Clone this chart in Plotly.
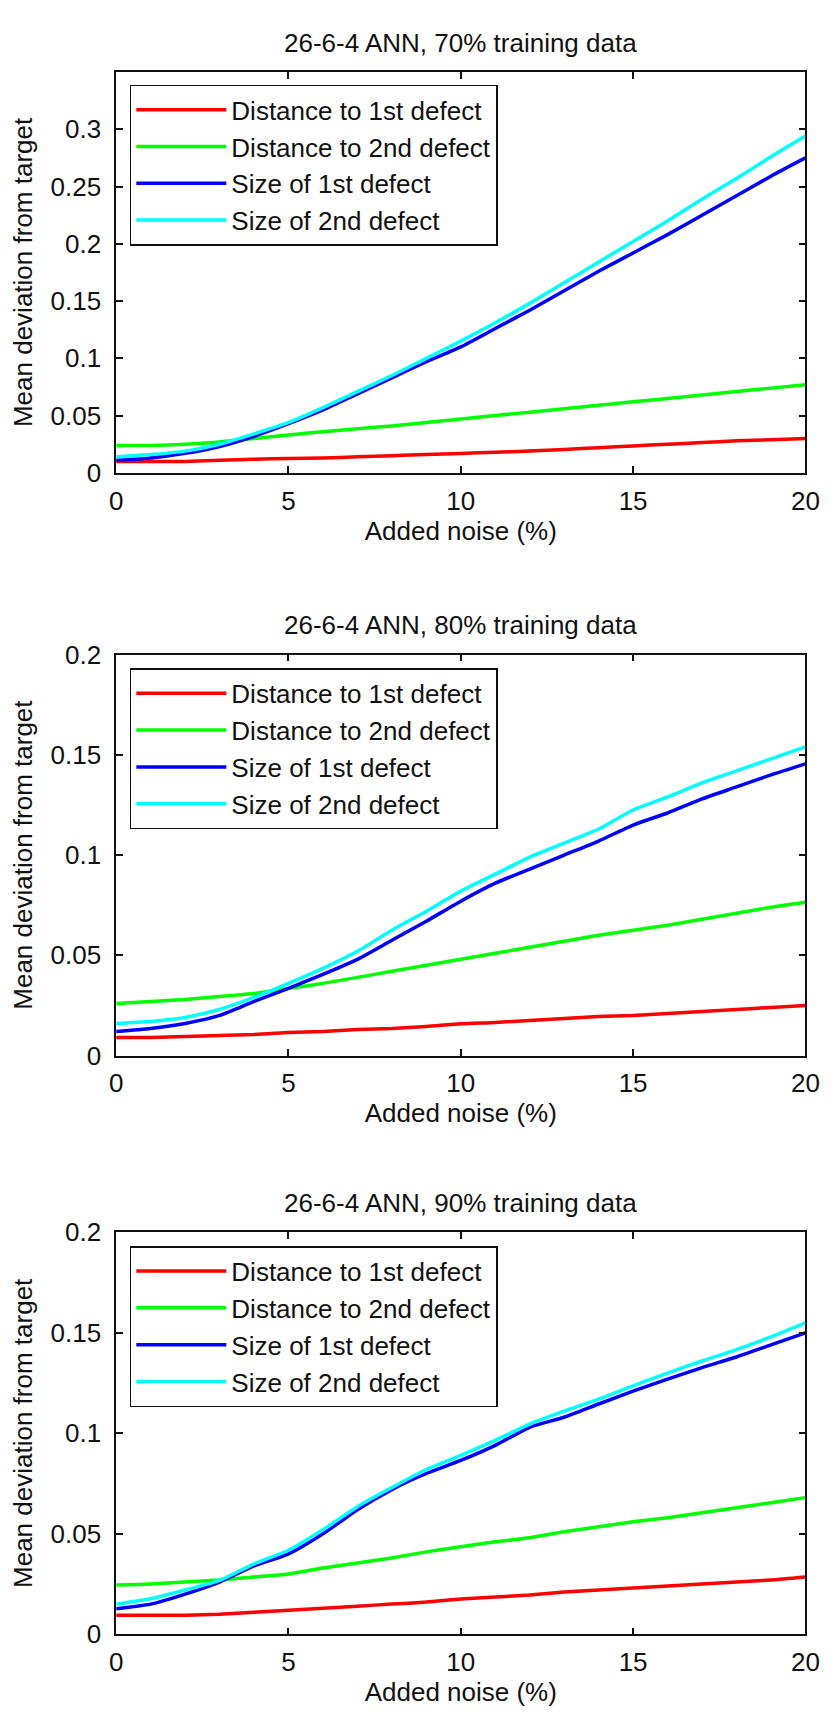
import plotly.graph_objects as go

# Added noise levels (%)
noise = list(range(0, 21))

# 26-6-4 ANN, 70% training data
dist1_70 = [0.010, 0.010, 0.010, 0.011, 0.012, 0.0125, 0.013, 0.014, 0.015, 0.016, 0.017,
            0.018, 0.019, 0.0205, 0.022, 0.0235, 0.025, 0.0265, 0.028, 0.029, 0.030]
dist2_70 = [0.024, 0.024, 0.025, 0.027, 0.030, 0.033, 0.036, 0.0385, 0.041, 0.044, 0.047,
            0.050, 0.053, 0.056, 0.059, 0.062, 0.065, 0.068, 0.071, 0.074, 0.077]
size1_70 = [0.011, 0.013, 0.017, 0.023, 0.032, 0.043, 0.055, 0.069, 0.083, 0.097, 0.110,
            0.126, 0.142, 0.159, 0.176, 0.192, 0.208, 0.225, 0.242, 0.259, 0.275]
size2_70 = [0.014, 0.016, 0.019, 0.025, 0.034, 0.044, 0.057, 0.071, 0.085, 0.100, 0.115,
            0.131, 0.148, 0.166, 0.184, 0.202, 0.220, 0.239, 0.257, 0.276, 0.294]

# 26-6-4 ANN, 80% training data
dist1_80 = [0.009, 0.009, 0.0095, 0.010, 0.0105, 0.0115, 0.012, 0.013, 0.0135, 0.0145, 0.0158,
            0.0165, 0.0175, 0.0185, 0.0195, 0.020, 0.021, 0.022, 0.023, 0.024, 0.025]
dist2_80 = [0.026, 0.027, 0.028, 0.0295, 0.031, 0.0335, 0.036, 0.039, 0.042, 0.045, 0.048,
            0.051, 0.054, 0.057, 0.060, 0.0625, 0.065, 0.068, 0.071, 0.074, 0.0765]
size1_80 = [0.012, 0.0135, 0.016, 0.020, 0.027, 0.0335, 0.0405, 0.048, 0.0575, 0.067, 0.077,
            0.086, 0.093, 0.100, 0.107, 0.115, 0.121, 0.128, 0.134, 0.140, 0.1455]
size2_80 = [0.016, 0.017, 0.019, 0.023, 0.029, 0.036, 0.0435, 0.052, 0.0625, 0.072, 0.082,
            0.0905, 0.099, 0.106, 0.113, 0.1225, 0.129, 0.136, 0.142, 0.148, 0.154]

# 26-6-4 ANN, 90% training data
dist1_90 = [0.0095, 0.0095, 0.0095, 0.010, 0.011, 0.012, 0.013, 0.014, 0.015, 0.016, 0.0175,
            0.0185, 0.0195, 0.021, 0.022, 0.023, 0.024, 0.025, 0.026, 0.027, 0.0285]
dist2_90 = [0.0245, 0.025, 0.026, 0.027, 0.0285, 0.030, 0.033, 0.0355, 0.038, 0.041, 0.0435,
            0.046, 0.048, 0.051, 0.0535, 0.056, 0.058, 0.0605, 0.063, 0.0655, 0.068]
size1_90 = [0.0127, 0.015, 0.020, 0.026, 0.034, 0.040, 0.050, 0.062, 0.072, 0.080, 0.0865,
            0.094, 0.103, 0.108, 0.1146, 0.121, 0.127, 0.1327, 0.138, 0.144, 0.150]
size2_90 = [0.015, 0.0177, 0.022, 0.0268, 0.035, 0.0418, 0.052, 0.0635, 0.073, 0.082, 0.089,
            0.0965, 0.1046, 0.111, 0.117, 0.1236, 0.130, 0.136, 0.1417, 0.148, 0.155]

series_names = ["Distance to 1st defect", "Distance to 2nd defect",
                "Size of 1st defect", "Size of 2nd defect"]
series_colors = ["#ff0000", "#00ff00", "#0000ff", "#00ffff"]

panels = [
    ("26-6-4 ANN, 70% training data", [dist1_70, dist2_70, size1_70, size2_70],
     [0, 0.35], [0, 0.05, 0.1, 0.15, 0.2, 0.25, 0.3]),
    ("26-6-4 ANN, 80% training data", [dist1_80, dist2_80, size1_80, size2_80],
     [0, 0.2], [0, 0.05, 0.1, 0.15, 0.2]),
    ("26-6-4 ANN, 90% training data", [dist1_90, dist2_90, size1_90, size2_90],
     [0, 0.2], [0, 0.05, 0.1, 0.15, 0.2]),
]
x_ticks = [0, 5, 10, 15, 20]

W, H = 835, 1720
FONT = "Liberation Sans, Arial, sans-serif"
FS = 26
INK = "#111111"

# pixel boxes of the three axes: (left, right, top, bottom)
boxes = [(112, 819, 58, 466), (112, 819, 651, 1059), (112, 819, 1239, 1648)]
title_y = [28, 621, 1209]
legend_top = [71, 665, 1253]

fig = go.Figure()
layout = dict(
    width=W, height=H, margin=dict(l=0, r=0, t=0, b=0),
    paper_bgcolor="white", plot_bgcolor="white",
    font=dict(family=FONT, size=FS, color=INK),
    annotations=[], showlegend=True,
)

for i, (title, ys, yrange, yticks) in enumerate(panels):
    n = i + 1
    xa = "x" if n == 1 else f"x{n}"
    ya = "y" if n == 1 else f"y{n}"
    lg = "legend" if n == 1 else f"legend{n}"
    for name, color, vals in zip(series_names, series_colors, ys):
        fig.add_trace(go.Scatter(
            x=noise, y=vals, name=name, mode="lines",
            line=dict(color=color, width=3.5, shape="spline", smoothing=0.6),
            xaxis=xa, yaxis=ya, legend=lg,
        ))
    l, r, t, b = boxes[i]
    axis_common = dict(
        showline=True, linecolor=INK, linewidth=1.5, mirror="ticks",
        ticks="inside", ticklen=7, tickwidth=1.5, tickcolor=INK,
        showgrid=False, zeroline=False,
        tickfont=dict(family=FONT, size=FS, color=INK),
    )
    layout[f"xaxis{'' if n == 1 else n}"] = dict(
        domain=[l / W, r / W], anchor=ya, range=[0, 20],
        tickvals=x_ticks, ticklabelstandoff=4,
        title=dict(text="Added noise (%)", standoff=2,
                   font=dict(family=FONT, size=FS, color=INK)),
        **axis_common,
    )
    layout[f"yaxis{'' if n == 1 else n}"] = dict(
        domain=[1 - b / H, 1 - t / H], anchor=xa, range=yrange,
        tickvals=yticks, ticktext=[f"{v:g}" for v in yticks], ticklabelstandoff=8,
        title=dict(text="Mean deviation from target", standoff=11,
                   font=dict(family=FONT, size=FS, color=INK)),
        **axis_common,
    )
    layout[lg] = dict(
        x=126 / W, y=1 - legend_top[i] / H, xanchor="left", yanchor="top",
        bgcolor="white", bordercolor=INK, borderwidth=1.5,
        font=dict(family=FONT, size=FS, color=INK),
        itemwidth=90, tracegroupgap=0,
    )
    layout["annotations"].append(dict(
        text=title, x=(l + r) / 2 / W, y=1 - title_y[i] / H,
        xref="paper", yref="paper", xanchor="center", yanchor="middle",
        showarrow=False, font=dict(family=FONT, size=FS, color=INK),
    ))

fig.update_layout(**layout)
# Page body without its default margin, so the figure fills the window exactly
fig.write_html(
    "out.html",
    config={"responsive": False, "displayModeBar": False},
    post_script="document.body.style.margin='0';document.body.style.overflow='hidden';",
)
